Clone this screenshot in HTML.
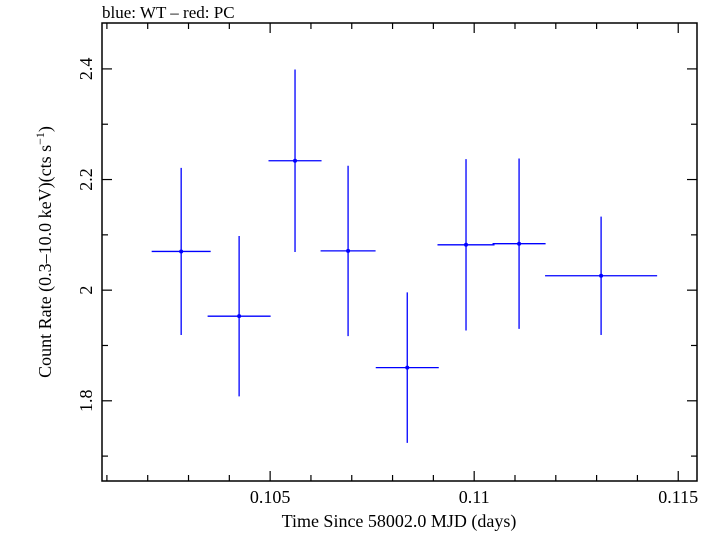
<!DOCTYPE html>
<html><head><meta charset="utf-8"><style>
body{margin:0;background:#fff;}
svg text{font-family:"Liberation Serif",serif;fill:#000;}
</style></head><body>
<svg id="chart" width="714" height="532" xmlns="http://www.w3.org/2000/svg">
<text x="102" y="18" font-size="17">blue: WT – red: PC</text>
<g id="axes"></g>
<g id="marks"></g>
<text x="399" y="527" font-size="18" text-anchor="middle">Time Since 58002.0 MJD (days)</text>
<text transform="translate(51,252) rotate(-90)" font-size="18" text-anchor="middle">Count Rate (0.3–10.0 keV)(cts s<tspan font-size="12" dy="-7">−1</tspan><tspan dy="7">)</tspan></text>
</svg>
<script>
const times=[0.10282,0.10424,0.10561,0.10691,0.10836,0.10980,0.11110,0.11311];
const halfWidths=[0.000723,0.000772,0.000650,0.000674,0.000772,0.000699,0.000650,0.001373];
const rates=[2.070,1.953,2.234,2.071,1.860,2.082,2.084,2.026];
const rateErrors=[0.151,0.145,0.165,0.154,0.136,0.155,0.154,0.107];
const xTicks=[0.105,0.11,0.115];
const xTickLabels=["0.105","0.11","0.115"];
const yTicks=[1.8,2.0,2.2,2.4];
const yTickLabels=["1.8","2","2.2","2.4"];

const L=102,R=697,T=23,B=481;
const x0=0.10088,x1=0.11546,y0=1.655,y1=2.483;
const xs=v=>L+(v-x0)/(x1-x0)*(R-L);
const ys=v=>B-(v-y0)/(y1-y0)*(B-T);
const NS="http://www.w3.org/2000/svg";
function mk(tag,attrs,parent){const e=document.createElementNS(NS,tag);for(const k in attrs)e.setAttribute(k,attrs[k]);parent.appendChild(e);return e;}
const axes=document.getElementById('axes'),marks=document.getElementById('marks');
const frame=mk('rect',{x:L,y:T,width:R-L,height:B-T,fill:'none',stroke:'#000','stroke-width':1.5},axes);


for(let i=101;i<=115;i++){const v=i/1000;const x=xs(v);const major=(i%5===0);const len=major?10:6;
 const t1=mk('line',{x1:x,x2:x,y1:B,y2:B-len,stroke:'#000','stroke-width':1.2},axes);
 
 
 const t2=mk('line',{x1:x,x2:x,y1:T,y2:T+len,stroke:'#000','stroke-width':1.2},axes);
 
 }
xTicks.forEach((v,i)=>{const t=mk('text',{x:xs(v),y:503,'font-size':18,'text-anchor':'middle'},axes);t.textContent=xTickLabels[i];
 
 });
for(let i=17;i<=24;i++){const v=i/10;const y=ys(v);const major=(i%2===0);const len=major?10:6;
 const t1=mk('line',{x1:L,x2:L+len,y1:y,y2:y,stroke:'#000','stroke-width':1.2},axes);
 
 
 const t2=mk('line',{x1:R,x2:R-len,y1:y,y2:y,stroke:'#000','stroke-width':1.2},axes);
 
 }
yTicks.forEach((v,i)=>{const t=mk('text',{transform:`translate(92,${ys(v)}) rotate(-90)`,'font-size':18,'text-anchor':'middle'},axes);t.textContent=yTickLabels[i];
 
 });
times.forEach((t,i)=>{const g=mk('g',{},marks);
 
 
 mk('line',{x1:xs(t-halfWidths[i]),x2:xs(t+halfWidths[i]),y1:ys(rates[i]),y2:ys(rates[i]),stroke:'#0000ff','stroke-width':1.3},g);
 mk('line',{x1:xs(t),x2:xs(t),y1:ys(rates[i]-rateErrors[i]),y2:ys(rates[i]+rateErrors[i]),stroke:'#0000ff','stroke-width':1.3},g);
 mk('circle',{cx:xs(t),cy:ys(rates[i]),r:2,fill:'#0000ff'},g);});
</script>
</body></html>
